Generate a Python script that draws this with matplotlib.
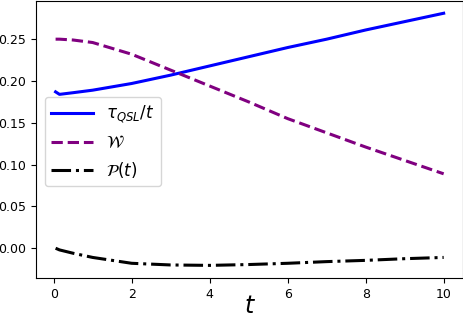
import numpy as np
import matplotlib.pyplot as plt

# values
t = [0.05, 0.15, 0.5, 1, 2, 3, 4, 5, 6, 7, 8, 9, 10]
tau_qsl = [0.187, 0.184, 0.186, 0.189, 0.197, 0.207, 0.218, 0.229, 0.240, 0.250, 0.261, 0.271, 0.281]
W = [0.250, 0.250, 0.249, 0.246, 0.232, 0.213, 0.194, 0.175, 0.155, 0.138, 0.121, 0.105, 0.089]
P = [0.0, -0.002, -0.006, -0.011, -0.018, -0.020, -0.0205, -0.0195, -0.018, -0.016, -0.0145, -0.0125, -0.011]
xticks = [0, 2, 4, 6, 8, 10]

fig, ax = plt.subplots(figsize=(4.64, 3.21), dpi=100)
fig.subplots_adjust(left=0.078, right=0.998, top=0.998, bottom=0.134)

ax.plot(t, tau_qsl, color='blue', lw=2.2, label=r'$\tau_{QSL}/t$')
ax.plot(t, W, color='purple', lw=2.2, ls='--', label=r'$\mathcal{W}$')
ax.plot(t, P, color='black', lw=2.2, ls='-.', label=r'$\mathcal{P}(t)$')

ax.set_xticks(xticks)
ax.tick_params(labelsize=9)
ax.set_xlabel(r'$t$', fontsize=17, labelpad=-5)
ax.legend(loc=(0.02, 0.33), fontsize=12, handlelength=2.5)

plt.savefig('out.png', dpi=100)
